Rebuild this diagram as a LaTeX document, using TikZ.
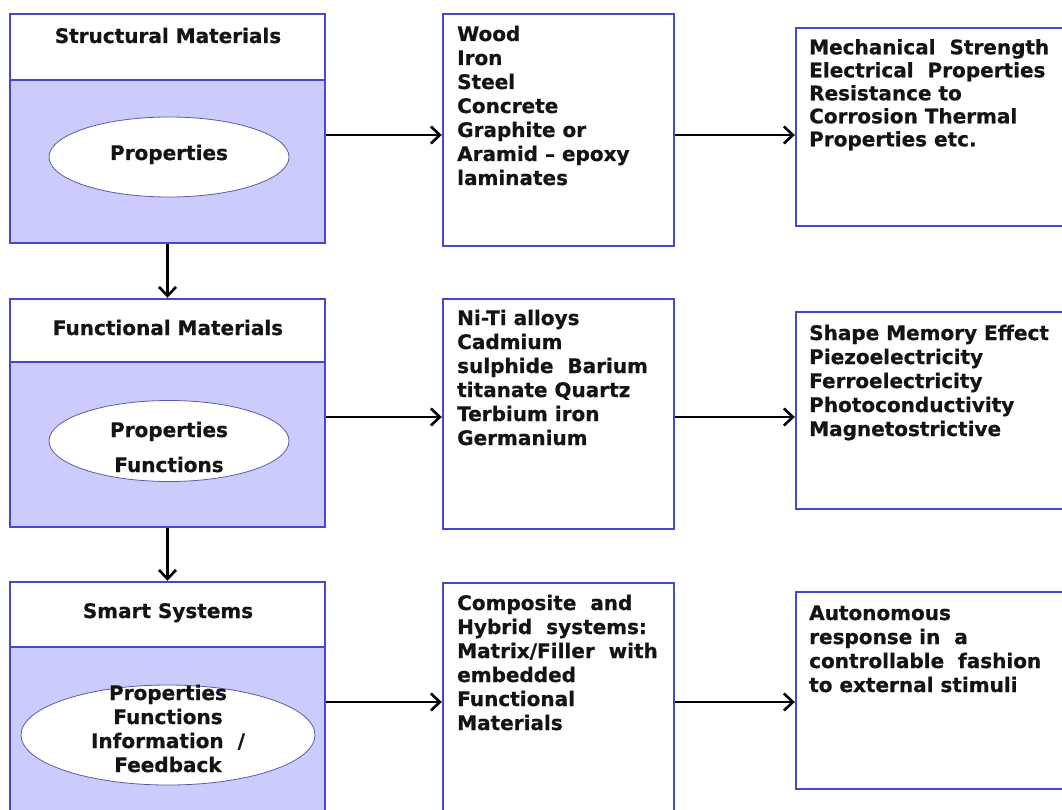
\documentclass[tikz,border=0pt]{standalone}
\usepackage{fontspec}
\setmainfont{DejaVu Sans}
\newfontfamily\dfam{DejaVu Sans Bold}[FakeBold=0.6]
\usetikzlibrary{arrows.meta,shapes.geometric}
\definecolor{boxblue}{RGB}{72,72,204}
\definecolor{lav}{RGB}{204,204,252}
\definecolor{ellline}{RGB}{90,90,170}
\definecolor{txt}{RGB}{20,20,20}
\newcommand{\dfont}{\fontsize{20}{24}\dfam\selectfont}
\tikzset{
  hdr/.style={draw=boxblue, line width=2.4pt, fill=white, rectangle, minimum width=315pt, inner sep=0pt},
  bodybox/.style={draw=boxblue, line width=2.4pt, fill=lav, rectangle, minimum width=315pt, inner sep=0pt},
  listbox/.style={draw=boxblue, line width=2.4pt, fill=white, rectangle, inner sep=0pt},
  ell/.style={draw=ellline, line width=0.8pt, fill=white, ellipse, inner sep=0pt},
  lbl/.style={font=\dfont, text=txt, inner sep=0pt},
  listtxt/.style={font=\dfont, text=txt, inner sep=0pt, align=left, anchor=north west},
  arr/.style={line width=2.6pt, -{Straight Barb[length=9pt,width=17pt,line width=2.6pt]}}
}
\begin{document}
\begin{tikzpicture}[x=1pt,y=-1pt]
\useasboundingbox (0,0) rectangle (1062,810);
\clip (0,0) rectangle (1062,810);
% left column
\node[hdr, minimum height=66pt] (L1h) at (167.5,47) {};
\node[bodybox, minimum height=163pt] (L1b) at (167.5,161.5) {};
\node[hdr, minimum height=63pt] (L2h) at (167.5,330.5) {};
\node[bodybox, minimum height=165pt] (L2b) at (167.5,444.5) {};
\node[hdr, minimum height=65pt] (L3h) at (167.5,614.5) {};
\node[bodybox, minimum height=183pt] (L3b) at (167.5,738.5) {};
\node[lbl, anchor=base] (L1t) at (168,43) {Structural Materials};
\node[lbl, anchor=base] (L2t) at (168,335) {Functional Materials};
\node[lbl, anchor=base] (L3t) at (168,618) {Smart Systems};
\node[ell, minimum width=240pt, minimum height=80pt] (E1) at (169,157) {};
\node[ell, minimum width=240pt, minimum height=81pt] (E2) at (169,441) {};
\node[ell, minimum width=294pt, minimum height=100pt] (E3) at (168,735) {};
\node[lbl, anchor=base] (E1t) at (169,160) {Properties};
\node[lbl, align=center, anchor=north] (E2t) at (169,420) {\strut Properties\\[11pt]Functions};
\node[lbl, align=center, anchor=north] (E3t) at (168,683) {\strut Properties\\Functions\\Information~~/\\Feedback};
% middle column
\node[listbox, minimum width=231pt, minimum height=232pt] (M1) at (558.5,130) {};
\node[listbox, minimum width=231pt, minimum height=230pt] (M2) at (558.5,414) {};
\node[listbox, minimum width=231pt, minimum height=247pt] (M3) at (558.5,706.5) {};
\node[listtxt] (M1t) at (457,24) {\strut Wood\\Iron\\Steel\\Concrete\\Graphite or\\Aramid – epoxy\\laminates};
\node[listtxt] (M2t) at (457,308) {\strut Ni-Ti alloys\\Cadmium\\sulphide~ Barium\\titanate Quartz\\Terbium iron\\Germanium};
\node[listtxt] (M3t) at (457,593) {\strut Composite~ and\\Hybrid~ systems:\\Matrix/Filler~ with\\embedded\\Functional\\Materials};
% right column
\node[listbox, minimum width=284pt, minimum height=198pt] (R1) at (938,127) {};
\node[listbox, minimum width=284pt, minimum height=197pt] (R2) at (938,410.5) {};
\node[listbox, minimum width=284pt, minimum height=197pt] (R3) at (938,690.5) {};
\node[listtxt, font=\fontsize{20}{23}\dfam\selectfont] (R1t) at (809,38) {\strut Mechanical~ Strength\\Electrical~ Properties\\Resistance to\\Corrosion Thermal\\Properties etc.};
\node[listtxt] (R2t) at (809,323) {\strut Shape Memory Effect\\Piezoelectricity\\Ferroelectricity\\Photoconductivity\\Magnetostrictive};
\node[listtxt] (R3t) at (809,603) {\strut Autonomous\\response in~ a\\controllable~ fashion\\to external stimuli};
% arrows
\draw[arr] (L1b.south) -- (L2h.north);
\draw[arr] (L2b.south) -- (L3h.north);
\draw[arr] (L1b.east |- 0,135) -- (M1.west |- 0,135);
\draw[arr] (M1.east |- 0,135) -- (R1.west |- 0,135);
\draw[arr] (L2b.east |- 0,417) -- (M2.west |- 0,417);
\draw[arr] (M2.east |- 0,417) -- (R2.west |- 0,417);
\draw[arr] (L3b.east |- 0,702) -- (M3.west |- 0,702);
\draw[arr] (M3.east |- 0,702) -- (R3.west |- 0,702);
\end{tikzpicture}
\end{document}
